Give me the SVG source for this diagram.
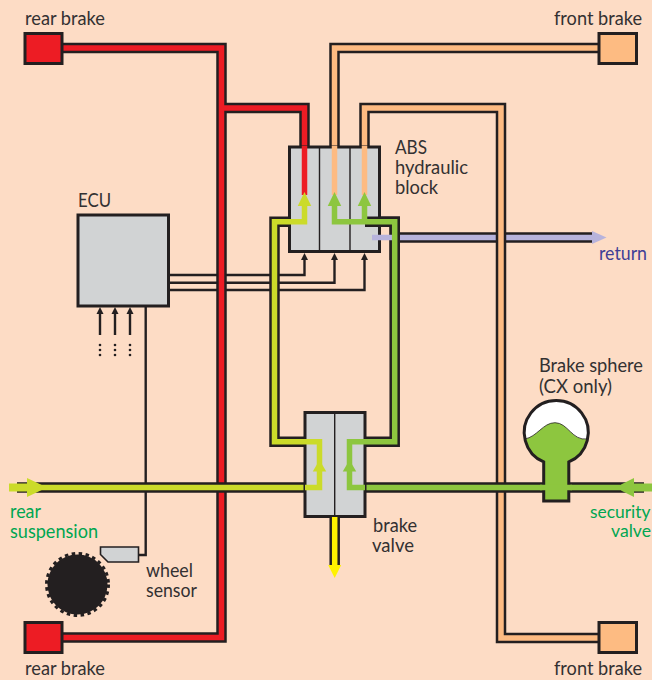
<svg xmlns="http://www.w3.org/2000/svg" width="652" height="680" viewBox="0 0 652 680">
<style>
.bg{fill:#fddcc5}
.p{fill:none;stroke-miterlimit:10}
.k{stroke:#231f20;stroke-width:10.500}
.red{stroke:#ed1c24;stroke-width:5.500}
.org{stroke:#fdbb82;stroke-width:5.500}
.lim{stroke:#cbdb2a;stroke-width:5.500}
.grn{stroke:#8dc63f;stroke-width:5.500}
.pur{stroke:#b7b3dc;stroke-width:5.500}
.yel{stroke:#fff200;stroke-width:5.500}
.w{fill:none;stroke:#231f20;stroke-width:2.400}
.box{fill:#d1d3d4;stroke:#231f20;stroke-width:3}
.div{fill:none;stroke:#231f20;stroke-width:1.400}
.rb{fill:#ed1c24;stroke:#231f20;stroke-width:3}
.fb{fill:#fdbb82;stroke:#231f20;stroke-width:3}
text{font-family:"Lato","Noto Sans","Liberation Sans",sans-serif;font-size:18.500px;fill:#333132}
.g{fill:#00a651}
.b{fill:#3f3f96}
.s{font-size:17px}
</style>
<defs>
<path id="tip" d="M0 0L3.500 7H-3.500Z" fill="#231f20"/>
<path id="ah" d="M0 0L6.750 14H-6.750Z"/>
<path id="ahs" d="M0 0L6.750 11.500H-6.750Z"/>
</defs>
<rect class="bg" width="652" height="680"/>

<g id="connectors-under">
<path class="w" d="M169 275H304.500V258M169 282.700H334.500V258M169 290H364.500V258"/>
<path class="w" d="M100 335V311M115 335V311M130 335V311"/>
<path class="w" d="M145.700 306V555H138"/>
<use href="#tip" x="304.500" y="253"/><use href="#tip" x="334.500" y="253"/><use href="#tip" x="364.500" y="253"/>
<use href="#tip" x="100" y="307"/><use href="#tip" x="115" y="307"/><use href="#tip" x="130" y="307"/>
<g fill="#231f20">
<circle cx="100" cy="345" r="1.300"/><circle cx="100" cy="350" r="1.300"/><circle cx="100" cy="355" r="1.300"/>
<circle cx="115" cy="345" r="1.300"/><circle cx="115" cy="350" r="1.300"/><circle cx="115" cy="355" r="1.300"/>
<circle cx="130" cy="345" r="1.300"/><circle cx="130" cy="350" r="1.300"/><circle cx="130" cy="355" r="1.300"/>
</g>
<path class="p k" d="M399 237.500H592"/>
<path class="p pur" d="M395 237.500H592"/>
<path class="p k" d="M600 48H334.500V150"/>
<path class="p org" d="M600 48H334.500V150"/>
<path class="p k" d="M364.500 150V108H501V638H600"/>
<path class="p org" d="M364.500 150V108H501V638H600"/>
<path class="p k" d="M60 48H221.500V637.500H60M221.500 108H304.500V150"/>
<path class="p red" d="M60 48H221.500V637.500H60M221.500 108H304.500V150"/>
<path class="p k" d="M17 487.500H310M292 221.700H274.500V441.700H310"/>
<path class="p k" d="M360 487.500H644M360 441.700H394.700V221.700H370"/>
<path class="p lim" d="M27 487.500H310"/>
<path class="p grn" d="M360 487.500H620"/>
<path class="p k" d="M334.700 515V565"/>
</g>

<g id="abs-block">
<rect class="box" x="289.500" y="147" width="90" height="104.500"/>
<path class="div" d="M319.500 147V251.500M350 147V251.500"/>
<text x="395" y="154" textLength="32" lengthAdjust="spacingAndGlyphs">ABS</text>
<text x="395" y="174" textLength="73" lengthAdjust="spacingAndGlyphs">hydraulic</text>
<text x="395" y="194" textLength="43" lengthAdjust="spacingAndGlyphs">block</text>
</g>
<g id="brake-valve">
<rect class="box" x="305" y="412.500" width="60" height="104"/>
<path class="div" d="M334.700 412.500V516.500"/>
<text x="373" y="532" textLength="44" lengthAdjust="spacingAndGlyphs">brake</text>
<text x="372" y="552" textLength="42" lengthAdjust="spacingAndGlyphs">valve</text>
</g>
<g id="ecu">
<rect class="box" x="78" y="215" width="90.500" height="91"/>
<text x="78" y="207" textLength="33" lengthAdjust="spacingAndGlyphs">ECU</text>
</g>
<g id="rear-brake-top">
<rect class="rb" x="25" y="33.500" width="37" height="30"/>
<text x="25" y="25" textLength="80" lengthAdjust="spacingAndGlyphs">rear brake</text>
</g>
<g id="rear-brake-bottom">
<rect class="rb" x="25" y="622.500" width="37" height="30"/>
<text x="25" y="675" textLength="80" lengthAdjust="spacingAndGlyphs">rear brake</text>
</g>
<g id="front-brake-top">
<rect class="fb" x="599" y="33.500" width="37.500" height="30"/>
<text x="554" y="25" textLength="88" lengthAdjust="spacingAndGlyphs">front brake</text>
</g>
<g id="front-brake-bottom">
<rect class="fb" x="599" y="622.500" width="37.500" height="30"/>
<text x="554" y="675" textLength="88" lengthAdjust="spacingAndGlyphs">front brake</text>
</g>
<g id="brake-sphere">
<path d="M543.700 461.900A32 32 0 1 1 568.800 461.900V501H543.700Z" fill="#8dc63f"/>
<path d="M524.700 439C537 437 543 422.700 555 422.700C568 422.700 572 441 587.300 439A32 32 0 1 0 524.700 439Z" fill="#fff" stroke="#231f20" stroke-width="0.800"/>
<path d="M543.700 461.900A32 32 0 1 1 568.800 461.900V501H543.700Z" fill="none" stroke="#231f20" stroke-width="3"/>
<text x="539" y="372" textLength="104" lengthAdjust="spacingAndGlyphs">Brake sphere</text>
<text x="539" y="393" textLength="73" lengthAdjust="spacingAndGlyphs">(CX only)</text>
</g>
<g id="wheel-sensor">
<path d="M100.500 547H138.500V562H108L100.500 554.500Z" fill="#d1d3d4" stroke="#231f20" stroke-width="1.600"/>
<circle cx="77.500" cy="584.500" r="30" fill="#231f20"/>
<circle cx="77.500" cy="584.500" r="31" fill="none" stroke="#231f20" stroke-width="3" stroke-dasharray="3.500 3.500"/>
<text x="146" y="577" textLength="47" lengthAdjust="spacingAndGlyphs">wheel</text>
<text x="146" y="597" textLength="51" lengthAdjust="spacingAndGlyphs">sensor</text>
</g>
<g id="rear-suspension">
<text class="g" x="10" y="518" textLength="31" lengthAdjust="spacingAndGlyphs">rear</text>
<text class="g" x="10" y="538" textLength="88" lengthAdjust="spacingAndGlyphs">suspension</text>
</g>
<g id="security-valve">
<text class="g s" x="590" y="518" textLength="60.500" lengthAdjust="spacingAndGlyphs">security</text>
<text class="g s" x="611" y="537" textLength="40" lengthAdjust="spacingAndGlyphs">valve</text>
</g>
<g id="return-label">
<text class="b" x="599" y="260" textLength="48" lengthAdjust="spacingAndGlyphs">return</text>
</g>

<g id="connectors-over">
<path class="p k" d="M365 221.700H394.700V260"/>
<path class="p pur" d="M372 237.500H392"/>
<path class="p red" d="M304.500 146V195"/>
<path class="p org" d="M334.500 146V195M364.500 146V195"/>
<path class="p lim" d="M304.500 205V221.700H274.500V441.700H319.500V470M319.500 441.700V487.500H305"/>
<path class="p grn" d="M334.500 205V221.700H394.700V441.700H349.500V470M364.500 205V221.700M349.500 441.700V487.500H365"/>
<path class="p grn" d="M540 487.500H572"/>
<use href="#ah" x="304.500" y="192" fill="#cbdb2a"/>
<use href="#ah" x="334.500" y="192" fill="#8dc63f"/>
<use href="#ah" x="364.500" y="192" fill="#8dc63f"/>
<use href="#ahs" x="319.500" y="460" fill="#cbdb2a"/>
<use href="#ahs" x="349.500" y="460" fill="#8dc63f"/>
<path class="p yel" d="M334.700 517V566"/>
<path d="M334.700 578L328.200 565H341.200Z" fill="#fff200"/>
<path d="M592 231L606.500 237.500L592 244Z" fill="#b7b3dc"/>
<path d="M9 483.500H27V478L47 487.500L27 497V491.500H9Z" fill="#cbdb2a"/>
<path d="M652 483.500H634V478L615 487.500L634 497V491.500H652Z" fill="#8dc63f"/>
</g>
</svg>
